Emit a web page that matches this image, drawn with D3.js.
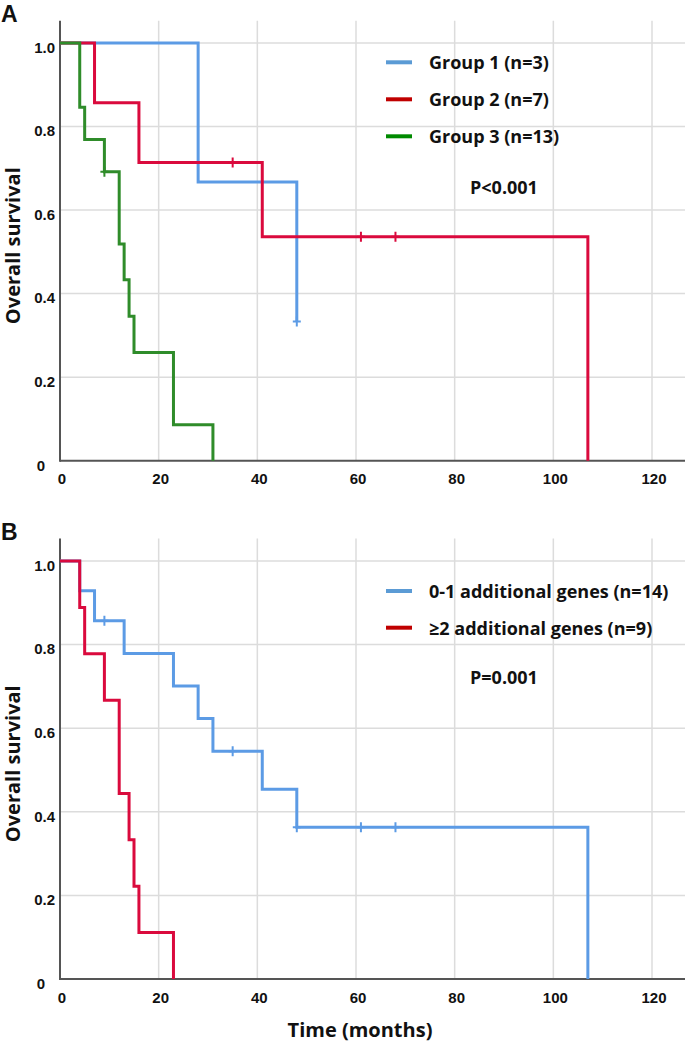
<!DOCTYPE html>
<html>
<head>
<meta charset="utf-8">
<script src="https://cdn.jsdelivr.net/npm/d3@7"></script>
<style>
  body { margin: 0; background: #fff; }
  svg { display: block; }
  .tick text { font-family: "Liberation Sans", Arial, sans-serif; font-weight: bold; font-size: 15px; fill: #111; }
  .lbl { font-family: "Open Sans", sans-serif; font-weight: bold; fill: #111; }
</style>
</head>
<body>
<svg width="685" height="1043"></svg>
<script>
const xTicks = [0, 20, 40, 60, 80, 100, 120];
const yTicks = [0, 0.2, 0.4, 0.6, 0.8, 1.0];
const yTickLabels = ["0", "0.2", "0.4", "0.6", "0.8", "1.0"];

// panel A - groups
const groupNames = ["Group 1 (n=3)", "Group 2 (n=7)", "Group 3 (n=13)"];
const g1Times = [0, 28, 48];
const g1Surv = [1, 0.667, 0.333];
const g1Censor = [48];
const g2Times = [0, 7, 16, 41, 107];
const g2Surv = [1, 0.857, 0.714, 0.536, 0];
const g2Censor = [35, 61, 68];
const g3Times = [0, 4, 5, 9, 12, 13, 14, 15, 23, 31];
const g3Surv = [1, 0.846, 0.769, 0.692, 0.519, 0.433, 0.346, 0.259, 0.086, 0];
const g3Censor = [9];

// panel B - additional genes
const geneNames = ["0-1 additional genes (n=14)", "\u22652 additional genes (n=9)"];
const lowTimes = [0, 4, 7, 13, 23, 28, 31, 41, 48, 107];
const lowSurv = [1, 0.929, 0.857, 0.779, 0.701, 0.623, 0.545, 0.454, 0.363, 0];
const lowCensor = [9, 35, 48, 61, 68];
const highTimes = [0, 4, 5, 9, 12, 14, 15, 16, 23];
const highSurv = [1, 0.889, 0.778, 0.667, 0.444, 0.333, 0.222, 0.111, 0];
const highCensor = [];

const blue = "#5c9be5", red = "#da0a3d", green = "#2f8c2a";
const legendColors = {blue: "#5b9bd5", red: "#c00000", green: "#008a00"};

const plotLeft = 60, plotRight = 685;
const svg = d3.select("svg");

var x = d3.scaleLinear().domain([0, 120]).range([plotLeft, 652]);

function survAt(times, surv, t){
  var i = d3.bisectRight(times, t) - 1;
  return surv[Math.max(i, 0)];
}

function renderPanel(p){
  var y = d3.scaleLinear().domain([0, 1]).range([p.yZero, p.yOne]);
  var g = svg.append("g");

  // grid
  g.selectAll(".vgrid")
   .data(xTicks.slice(1))
   .enter().append("line")
   .attr("x1", d => x(d)).attr("x2", d => x(d))
   .attr("y1", p.top).attr("y2", p.yZero)
   .attr("stroke", "#dcdcdc").attr("stroke-width", 1.5);
  g.selectAll(".hgrid")
   .data(yTicks.slice(1))
   .enter().append("line")
   .attr("x1", plotLeft).attr("x2", plotRight)
   .attr("y1", d => y(d)).attr("y2", d => y(d))
   .attr("stroke", "#dcdcdc").attr("stroke-width", 1.5);

  // axes
  var xAxis = d3.axisBottom(x).tickValues(xTicks).tickSize(0).tickPadding(13);
  g.append("g")
   .attr("transform", "translate(0," + p.yZero + ")")
   .call(xAxis)
   .call(a => a.select(".domain").remove())
   .call(a => a.selectAll(".tick text").attr("dx", 1.5));
  var yAxis = d3.axisLeft(y).tickValues(yTicks).tickSize(0).tickPadding(5)
                .tickFormat((d, i) => yTickLabels[i]);
  g.append("g")
   .attr("transform", "translate(" + plotLeft + ",0)")
   .call(yAxis)
   .call(a => a.select(".domain").remove())
   .call(a => a.selectAll(".tick text").attr("dy", "0.62em"))
   .call(a => a.selectAll(".tick:first-of-type text").attr("dx", -10));

  g.append("line")
   .attr("x1", plotLeft).attr("x2", plotRight)
   .attr("y1", p.yZero).attr("y2", p.yZero)
   .attr("stroke", "#555").attr("stroke-width", 2);
  g.append("line")
   .attr("x1", plotLeft).attr("x2", plotLeft)
   .attr("y1", p.top).attr("y2", p.yZero + 1)
   .attr("stroke", "#555").attr("stroke-width", 2);

  // curves
  var line = d3.line()
               .x(d => x(d[0]))
               .y(d => y(d[1]))
               .curve(d3.curveStepAfter);
  p.curves.forEach(function(c){
    var pts = c.times.map((t, i) => [t, c.surv[i]]);
    g.append("path")
     .attr("d", line(pts))
     .attr("fill", "none")
     .attr("stroke", c.color)
     .attr("stroke-width", 3);
    c.censor.forEach(function(t){
      var cx = x(t), cy = y(survAt(c.times, c.surv, t));
      g.append("path")
       .attr("d", "M" + (cx - 4) + "," + cy + "H" + (cx + 4) + "M" + cx + "," + (cy - 5) + "V" + (cy + 5))
       .attr("stroke", c.color)
       .attr("stroke-width", 2);
    });
  });

  // legend
  p.names.forEach(function(n, i){
    var ly = p.legendY + i * p.legendGap;
    g.append("line")
     .attr("x1", 386).attr("x2", 412)
     .attr("y1", ly).attr("y2", ly)
     .attr("stroke", p.legendColors[i]).attr("stroke-width", 4);
    g.append("text")
     .attr("class", "lbl")
     .attr("x", 429).attr("y", ly + 7)
     .attr("font-size", 18)
     .text(n);
  });
  g.append("text")
   .attr("class", "lbl")
   .attr("x", 470).attr("y", p.pY)
   .attr("font-size", 18)
   .text(p.pText);

  // y title and panel letter
  g.append("text")
   .attr("class", "lbl")
   .attr("transform", "translate(20," + ((p.top + p.yZero) / 2 + 5) + ") rotate(-90)")
   .attr("text-anchor", "middle")
   .attr("font-size", 20)
   .text("Overall survival");
  g.append("text")
   .attr("x", 1).attr("y", p.top + 1)
   .attr("font-family", "Liberation Sans, Arial, sans-serif")
   .attr("font-weight", "bold")
   .attr("font-size", 23)
   .attr("fill", "#111")
   .text(p.letter);
}

renderPanel({
  letter: "A", top: 20.7, yZero: 460.7, yOne: 43,
  curves: [
    {times: g1Times, surv: g1Surv, censor: g1Censor, color: blue},
    {times: g2Times, surv: g2Surv, censor: g2Censor, color: red},
    {times: g3Times, surv: g3Surv, censor: g3Censor, color: green}
  ],
  names: groupNames,
  legendColors: [legendColors.blue, legendColors.red, legendColors.green],
  legendY: 62.3, legendGap: 37, pY: 193.5, pText: "P<0.001"
});

renderPanel({
  letter: "B", top: 538.5, yZero: 979, yOne: 561,
  curves: [
    {times: lowTimes, surv: lowSurv, censor: lowCensor, color: blue},
    {times: highTimes, surv: highSurv, censor: highCensor, color: red}
  ],
  names: geneNames,
  legendColors: [legendColors.blue, legendColors.red],
  legendY: 591, legendGap: 36.7, pY: 684, pText: "P=0.001"
});

svg.append("text")
   .attr("class", "lbl")
   .attr("x", 360).attr("y", 1036.5)
   .attr("text-anchor", "middle")
   .attr("font-size", 20)
   .text("Time (months)");
</script>
</body>
</html>
